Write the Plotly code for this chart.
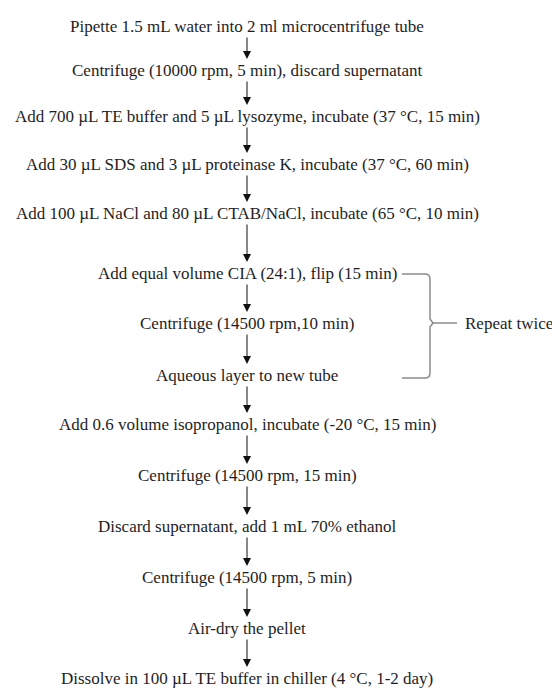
import plotly.graph_objects as go

# ---- content ----
steps = [
    "Pipette 1.5 mL water into 2 ml microcentrifuge tube",
    "Centrifuge (10000 rpm, 5 min), discard supernatant",
    "Add 700 \u00b5L TE buffer and 5 \u00b5L lysozyme, incubate (37 \u00b0C, 15 min)",
    "Add 30 \u00b5L SDS and 3 \u00b5L proteinase K, incubate (37 \u00b0C, 60 min)",
    "Add 100 \u00b5L NaCl and 80 \u00b5L CTAB/NaCl, incubate (65 \u00b0C, 10 min)",
    "Add equal volume CIA (24:1), flip (15 min)",
    "Centrifuge (14500 rpm,10 min)",
    "Aqueous layer to new tube",
    "Add 0.6 volume isopropanol, incubate (-20 \u00b0C, 15 min)",
    "Centrifuge (14500 rpm, 15 min)",
    "Discard supernatant, add 1 mL 70% ethanol",
    "Centrifuge (14500 rpm, 5 min)",
    "Air-dry the pellet",
    "Dissolve in 100 \u00b5L TE buffer in chiller (4 \u00b0C, 1-2 day)",
]
repeat_label = "Repeat twice"
repeat_first, repeat_last = 5, 7   # steps covered by the bracket

# ---- layout (pixel coordinates of the drawing) ----
W, H = 552, 689
x_center = 247
row_y = [26, 70, 116, 164, 213, 273, 323, 375, 424, 475, 526, 577, 628, 678]
font_family = "Liberation Serif"
font_size = 17
text_color = "#1e1e1e"
gap_top, gap_bottom = 10, 11

fig = go.Figure()
annotations = []
for label, y in zip(steps, row_y):
    annotations.append(dict(
        x=x_center, y=y, xref="x", yref="y", text=label, showarrow=False,
        xanchor="center", yanchor="middle",
        font=dict(family=font_family, size=font_size, color=text_color),
    ))
for y0, y1 in zip(row_y[:-1], row_y[1:]):
    annotations.append(dict(
        x=x_center, y=y1 - gap_bottom, ax=x_center, ay=y0 + gap_top,
        xref="x", yref="y", axref="x", ayref="y", text="", showarrow=True,
        arrowhead=2, arrowsize=1.6, arrowwidth=1.0, arrowcolor="#111111",
        standoff=0, startstandoff=0,
    ))

# bracket
bx0, bx1, bxt = 402, 430, 457
by0, by1 = row_y[repeat_first] + 1, row_y[repeat_last] + 3
bym = row_y[(repeat_first + repeat_last) // 2]
path = (f"M {bx0},{by0} L {bx1-5},{by0} Q {bx1},{by0} {bx1},{by0+5} "
        f"L {bx1},{bym-4} L {bx1+3},{bym} L {bx1},{bym+4} "
        f"L {bx1},{by1-5} Q {bx1},{by1} {bx1-5},{by1} L {bx0},{by1}")
shapes = [
    dict(type="path", path=path, xref="x", yref="y",
         line=dict(color="#8c8c8c", width=1.5)),
    dict(type="line", x0=bx1 + 3, x1=bxt, y0=bym, y1=bym, xref="x", yref="y",
         line=dict(color="#8c8c8c", width=1.5)),
]
annotations.append(dict(
    x=bxt + 6, y=bym, xref="x", yref="y", text=repeat_label, showarrow=False,
    xanchor="left", yanchor="middle",
    font=dict(family=font_family, size=font_size, color=text_color),
))

fig.update_layout(
    width=W, height=H, margin=dict(l=0, r=0, t=0, b=0),
    paper_bgcolor="white", plot_bgcolor="white",
    xaxis=dict(range=[0, W], visible=False, fixedrange=True),
    yaxis=dict(range=[H, 0], visible=False, fixedrange=True),
    annotations=annotations, shapes=shapes, showlegend=False,
)
fig.write_html("out.html", config={"displayModeBar": False},
               post_script="document.body.style.margin='0';")
